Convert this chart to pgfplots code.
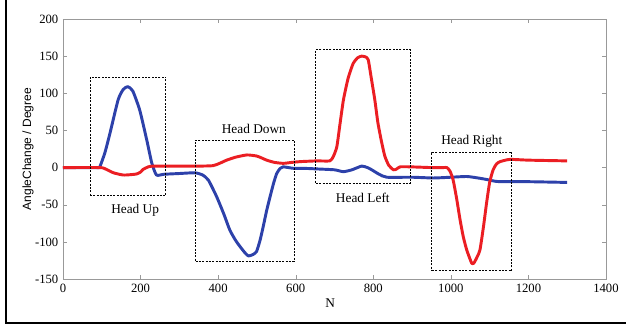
\documentclass[border=0pt]{standalone}
\usepackage{fontspec}
\setmainfont{Liberation Serif}
\newfontfamily\labsans{Liberation Sans}
\usepackage{pgfplots}
\pgfplotsset{compat=1.18}
\definecolor{cblue}{RGB}{45,65,170}
\definecolor{cred}{RGB}{235,30,35}
\begin{document}
\begin{tikzpicture}
\useasboundingbox (0,0) rectangle (469.5pt,-246.75pt);
\draw[line width=2pt] (4.6pt,0) -- (4.6pt,-242.25pt) -- (470pt,-242.25pt);
\begin{axis}[
  at={(47.25pt,-209.25pt)}, anchor=south west,
  scale only axis, width=407.25pt, height=195pt,
  xmin=0, xmax=1400, ymin=-150, ymax=200,
  xtick={0,200,...,1400}, ytick={-150,-100,...,200},
  tick align=inside, major tick length=3pt,
  axis line style={gray!80}, tick style={gray!80},
  tick label style={font=\fontsize{9.5}{11}\selectfont},
  /pgf/number format/assume math mode=true,
  /pgf/number format/set thousands separator={},
  xlabel={N},
  xlabel style={font=\fontsize{10}{12}\selectfont, at={(axis description cs:0.492,0)}, anchor=north, yshift=-11.5pt},
  ylabel={{\labsans AngleChange / Degree}},
  ylabel style={font=\fontsize{9}{11}\selectfont, at={(axis description cs:-0.0645,0.5)}, anchor=center},
  clip=false,
]
\addplot[cblue, line width=2.2pt, line join=round, smooth, tension=0.35] coordinates {
(0,0)(60,0)(90,0)(95,1)(108,20)(121,46)(142,91)(155,105)(167,109)(180,103)(198,77)(216,37)(229,6)(241,-10)(260,-9)(300,-8)(340,-7)(360,-10)(375,-17)(396,-39)(415,-63)(430,-84)(445,-98)(456,-106)(468,-114)(478,-119)(490,-117)(499,-113)(508,-98)(516,-80)(525,-58)(534,-39)(543,-21)(551,-8)(560,-1)(568,1)(594,-1)(620,-1)(662,-2)(700,-3)(723,-5.5)(745,-3)(770,2)(785,0)(796,-3)(815,-9)(835,-13)(900,-13)(955,-14)(1000,-13)(1041,-12)(1070,-14)(1092,-16)(1110,-18)(1127,-19)(1200,-19)(1300,-20)
};
\addplot[cred, line width=2.2pt, line join=round, smooth, tension=0.35] coordinates {
(0,0)(95,0)(110,-2)(130,-7)(155,-10)(175,-9.5)(190,-8.6)(200,-6)(207,-2.3)(220,1)(233,2)(300,2)(353,2)(387,2.6)(405,6)(422,10)(445,14)(474,17)(499,15.6)(512,13)(525,10)(545,7)(568,5.7)(590,7)(611,8)(654,9)(688,9)(697,15)(706,28)(714,58)(723,91)(735,120)(748,140)(760,148)(770,150)(780,149)(787,145)(795,120)(804,91)(812,60)(822,33)(830,15)(840,3)(852,-3)(860,-2)(869,1)(895,1)(950,0)(980,0)(990,0)(998,-5)(1006,-17)(1015,-42)(1024,-71)(1032,-93)(1041,-111)(1054,-129)(1060,-128)(1068,-120)(1075,-111)(1084,-80)(1092,-48)(1100,-20)(1109,-3)(1118,5)(1127,8)(1152,11)(1200,10)(1300,9)
};
\addplot[black, line width=0.6pt, dash pattern=on 1.5pt off 1pt] coordinates {(70,-38)(265,-38)(265,122)(70,122)(70,-38)};
\addplot[black, line width=0.6pt, dash pattern=on 1.5pt off 1pt] coordinates {(342,-126)(596,-126)(596,37)(342,37)(342,-126)};
\addplot[black, line width=0.6pt, dash pattern=on 1.5pt off 1pt] coordinates {(652,-21)(895,-21)(895,159)(652,159)(652,-21)};
\addplot[black, line width=0.6pt, dash pattern=on 1.5pt off 1pt] coordinates {(951,-139)(1157,-139)(1157,21)(951,21)(951,-139)};
\node[font=\fontsize{10}{12}\selectfont] at (axis cs:186,-58) {Head Up};
\node[font=\fontsize{10}{12}\selectfont] at (axis cs:492,52) {Head Down};
\node[font=\fontsize{10}{12}\selectfont] at (axis cs:773,-41) {Head Left};
\node[font=\fontsize{10}{12}\selectfont] at (axis cs:1054,36) {Head Right};
\end{axis}
\end{tikzpicture}
\end{document}
